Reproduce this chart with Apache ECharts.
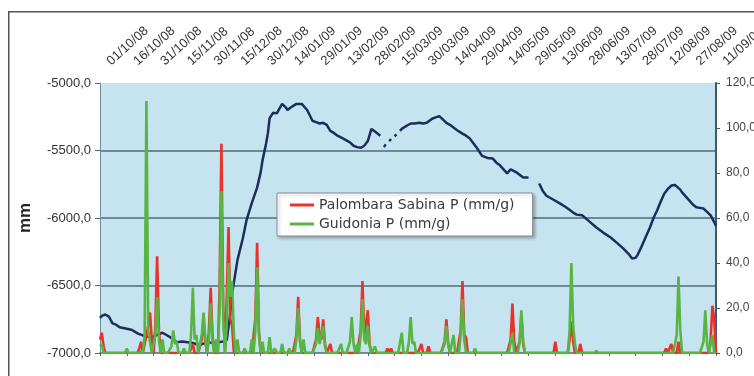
<!DOCTYPE html>
<html>
<head>
<meta charset="utf-8">
<script src="https://cdn.jsdelivr.net/npm/echarts@6/dist/echarts.min.js"></script>
<style>
  html, body { margin: 0; padding: 0; background: #ffffff; }
  #chart { width: 754px; height: 376px; }
</style>
</head>
<body>
<div id="chart"></div>
<script>
// Date labels every 15 days, starting 01/10/08 (day 0)
const tickLabels = ['01/10/08','16/10/08','31/10/08','15/11/08','30/11/08','15/12/08','30/12/08',
  '14/01/09','29/01/09','13/02/09','28/02/09','15/03/09','30/03/09','14/04/09','29/04/09',
  '14/05/09','29/05/09','13/06/09','28/06/09','13/07/09','28/07/09','12/08/09','27/08/09','11/09/09'];
const lastDay = 345;

// Piezometric level (mm), [day, value]; null marks missing readings
const levelPoints = [
  [0,-6740],[1,-6725],[3,-6715],[5,-6730],[7,-6780],[9,-6790],[11,-6810],[13,-6815],[15,-6820],
  [18,-6830],[21,-6855],[24,-6870],[27,-6880],[30,-6880],[32,-6865],[35,-6850],[37,-6865],[39,-6880],
  [41,-6900],[43,-6920],[46,-6915],[49,-6920],[52,-6925],[54,-6935],[56,-6940],[58,-6930],[60,-6920],
  [63,-6925],[66,-6920],[69,-6915],[71,-6905],[72,-6900],[73,-6700],[74,-6560],[77,-6310],[80,-6150],
  [82,-6020],[85,-5890],[88,-5775],[90,-5660],[91,-5575],[93,-5450],[94,-5375],[95,-5260],[97,-5220],
  [99,-5225],[100,-5215],[102,-5155],[104,-5180],[105,-5200],[107,-5180],[108,-5175],[110,-5155],
  [113,-5155],[114,-5165],[116,-5200],[119,-5280],[121,-5290],[123,-5300],[125,-5295],[127,-5310],
  [129,-5355],[131,-5370],[133,-5390],[136,-5410],[138,-5425],[140,-5440],[142,-5465],[144,-5475],
  [146,-5480],[148,-5465],[149,-5455],[150,-5430],[152,-5340],[154,-5360],[155,-5370],[157,-5390],
  [158,null],[159,-5475],[160,-5455],[161,null],[162,-5430],[163,-5415],[164,null],[165,-5395],
  [166,-5380],[167,null],[168,-5355],[169,-5340],[170,-5330],[172,-5315],[174,-5300],[176,-5300],
  [179,-5295],[181,-5300],[183,-5295],[186,-5265],[188,-5255],[190,-5245],[192,-5270],[194,-5295],
  [196,-5310],[198,-5330],[200,-5350],[203,-5375],[205,-5390],[207,-5410],[209,-5445],[211,-5480],
  [213,-5520],[214,-5540],[217,-5555],[220,-5560],[222,-5590],[224,-5610],[226,-5640],[228,-5670],
  [230,-5640],[231,-5635],[233,-5660],[235,-5680],[237,-5700],[240,-5700],[243,null],[246,-5745],
  [248,-5800],[250,-5835],[254,-5865],[258,-5895],[261,-5920],[265,-5960],[267,-5975],[270,-5980],
  [274,-6025],[278,-6070],[282,-6110],[286,-6145],[290,-6190],[293,-6225],[296,-6265],[298,-6300],
  [300,-6295],[301,-6275],[303,-6220],[304,-6190],[306,-6130],[308,-6070],[310,-6000],[312,-5945],
  [314,-5880],[316,-5820],[318,-5785],[320,-5760],[322,-5755],[323,-5760],[325,-5790],[326,-5810],
  [328,-5840],[330,-5870],[332,-5900],[334,-5920],[336,-5925],[338,-5930],[340,-5955],[342,-5980],
  [344,-6030],[345,-6060]
];

// Daily rainfall (mm/g) on rainy days, [day, value]; other days are dry
const palombaraRain = [
  [0,6],[1,9],[2,3],[22,2],[23,5],[26,8],[27,12],[28,18],[29,6],[31,12],[32,43],[33,10],[52,4],
  [57,6],[58,15],[59,5],[61,10],[62,29],[63,8],[67,30],[68,93],[69,20],[71,25],[72,56],[73,15],
  [74,12],[87,15],[88,49],[89,10],[110,8],[111,25],[112,6],[121,6],[122,16],[123,8],[124,6],[125,15],
  [126,4],[129,4],[146,10],[147,32],[148,8],[149,8],[150,19],[151,4],[161,2],[163,2],[180,4],[184,3],
  [193,5],[194,15],[195,4],[202,10],[203,32],[204,8],[205,7],[230,6],[231,22],[232,5],[235,5],
  [236,17],[237,4],[255,5],[263,6],[264,14],[265,5],[269,4],[317,2],[320,4],[324,5],[342,6],
  [343,21],[344,15]
];
const guidoniaRain = [
  [0,3],[1,4],[15,2],[23,1],[25,8],[26,112],[27,10],[28,10],[31,8],[32,25],[33,6],[35,6],[40,3],
  [41,10],[42,4],[43,5],[47,2],[51,8],[52,29],[53,6],[54,8],[57,8],[58,18],[59,6],[61,6],[62,22],
  [63,5],[65,6],[67,20],[68,72],[69,15],[71,12],[72,40],[73,25],[74,32],[75,8],[77,6],[81,2],[85,6],
  [87,10],[88,38],[89,8],[91,5],[95,7],[98,2],[102,4],[106,2],[110,6],[111,20],[112,5],[114,6],
  [121,4],[122,11],[123,4],[124,4],[125,12],[126,3],[135,4],[140,5],[141,16],[142,4],[144,4],[146,8],
  [147,24],[148,6],[149,4],[150,12],[151,3],[154,3],[169,9],[173,5],[174,16],[175,4],[176,5],[193,4],
  [194,12],[195,4],[198,8],[202,8],[203,24],[204,6],[210,2],[231,9],[235,5],[236,19],[237,5],
  [263,10],[264,40],[265,12],[266,4],[278,1],[323,8],[324,34],[325,10],[338,5],[339,19],[340,4],
  [343,8]
];

function dailySeries(rainy) {
  const out = [];
  for (let d = 0; d <= lastDay; d++) out.push([d, 0]);
  rainy.forEach(([d, v]) => { out[d][1] = v; });
  return out;
}
const fmt = v => v.toFixed(1).replace('.', ',');

const chart = echarts.init(document.getElementById('chart'), null, { renderer: 'canvas' });
chart.setOption({
  animation: false,
  backgroundColor: '#ffffff',
  textStyle: { fontFamily: 'Liberation Sans, Arial, sans-serif' },
  graphic: [{
    type: 'rect', left: 8, top: 11, z: -10,
    shape: { width: 800, height: 400 },
    style: { fill: '#ffffff', stroke: '#555555', lineWidth: 1.5 }
  }],
  grid: {
    left: 100, right: 38, top: 83, bottom: 23, outerBoundsMode: 'none', containLabel: false,
    show: true, backgroundColor: '#c6e4ef', borderWidth: 0
  },
  legend: {
    left: 277, top: 193, orient: 'vertical',
    data: ['Palombara Sabina P (mm/g)', 'Guidonia P (mm/g)'],
    icon: 'rect', itemWidth: 24, itemHeight: 3, itemGap: 5,
    padding: [5, 18, 5, 13],
    backgroundColor: '#ffffff', borderColor: '#8a8a8a', borderWidth: 1,
    shadowColor: 'rgba(0,0,0,0.25)', shadowBlur: 3, shadowOffsetX: 2, shadowOffsetY: 2,
    textStyle: { fontSize: 14, color: '#3a3a3a', fontFamily: 'DejaVu Sans' }
  },
  xAxis: {
    type: 'value', position: 'top', min: 0, max: lastDay, interval: 15,
    axisLine: { show: true, lineStyle: { color: '#4f6a78', width: 1.5 } },
    axisTick: { show: true, inside: true, length: 3, lineStyle: { color: '#4f6a78' } },
    splitLine: { show: false },
    axisLabel: {
      rotate: 42, margin: 12, fontSize: 13, color: '#333333', padding: [0, 0, 0, 12],
      hideOverlap: false,
      formatter: v => tickLabels[Math.round(v / 15)] || ''
    }
  },
  yAxis: [{
    type: 'value', min: -7000, max: -5000, interval: 500, position: 'left',
    name: 'mm', nameLocation: 'middle', nameGap: 66, nameRotate: 90,
    nameTextStyle: { fontSize: 17, fontWeight: 'bold', color: '#222222' },
    axisLine: { show: true, lineStyle: { color: '#6f8c9a', width: 1 } },
    axisTick: { show: true, length: 5, lineStyle: { color: '#4f6a78' } },
    axisLabel: { fontSize: 13, color: '#333333', margin: 9, formatter: fmt },
    splitLine: { show: true, showMinLine: false, showMaxLine: false, lineStyle: { color: '#4f6a78', width: 1.5 } }
  }, {
    type: 'value', min: 0, max: 120, interval: 20, position: 'right',
    axisLine: { show: true, lineStyle: { color: '#3d5a6a', width: 2 } },
    axisTick: { show: true, length: 4, lineStyle: { color: '#3d5a6a' } },
    axisLabel: { fontSize: 12, color: '#444444', margin: 10, formatter: fmt },
    splitLine: { show: false }
  }],
  series: [{
    name: 'Livello', type: 'line', yAxisIndex: 0,
    data: levelPoints.map(([d, v]) => [d, v === null ? '-' : v]),
    showSymbol: false, symbol: 'none', connectNulls: false,
    lineStyle: { color: '#1c2c5c', width: 2.5 }, z: 2
  }, {
    name: 'Palombara Sabina P (mm/g)', type: 'line', yAxisIndex: 1,
    data: dailySeries(palombaraRain), showSymbol: false, symbol: 'none',
    itemStyle: { color: '#e8322a' }, lineStyle: { color: '#e8322a', width: 2.6 }, z: 3
  }, {
    name: 'Guidonia P (mm/g)', type: 'line', yAxisIndex: 1,
    data: dailySeries(guidoniaRain), showSymbol: false, symbol: 'none',
    itemStyle: { color: '#58b544' }, lineStyle: { color: '#58b544', width: 2.6 }, z: 4
  }]
});
</script>
</body>
</html>
